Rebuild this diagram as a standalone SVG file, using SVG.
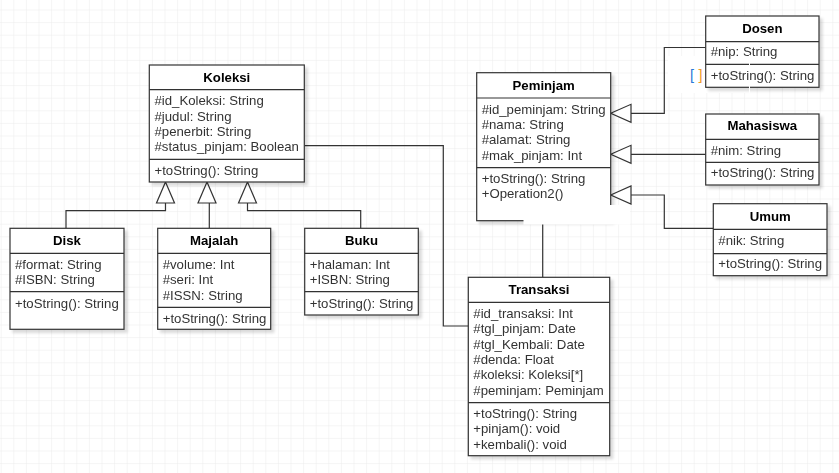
<svg xmlns="http://www.w3.org/2000/svg" width="839" height="473" viewBox="0 0 839 473">
<defs>
<pattern id="grid" x="0.7" y="9.5" width="12.6" height="12.6" patternUnits="userSpaceOnUse">
<path d="M0 0H12.6M0 0V12.6" fill="none" stroke="#ebebeb" stroke-width="1"/>
</pattern>
<filter id="sh" x="-10%" y="-10%" width="130%" height="130%">
<feGaussianBlur in="SourceAlpha" stdDeviation="1.5"/>
<feOffset dx="3" dy="3" result="b"/>
<feComponentTransfer><feFuncA type="linear" slope="0.15"/></feComponentTransfer>
<feMerge><feMergeNode/><feMergeNode in="SourceGraphic"/></feMerge>
</filter>
</defs>
<style>
.box{fill:#fff;stroke:#333;stroke-width:1.2}
.ln{stroke:#333;stroke-width:1.2;fill:none}
.tri{fill:#fff;stroke:#333;stroke-width:1.2}
.t{font-family:"Liberation Sans",Arial,sans-serif;font-size:13.2px;fill:#000;font-weight:bold;text-anchor:middle}
.a{font-family:"Liberation Sans",Arial,sans-serif;font-size:13.2px;fill:#333}
.br{font-family:"Liberation Sans",Arial,sans-serif;font-size:14.5px}
</style>
<rect width="839" height="473" fill="#fff"/>
<rect width="839" height="473" fill="url(#grid)"/>
<rect x="668" y="56" width="82" height="37" fill="#fff"/>

<g id="connectors">
<polyline class="ln" points="66,228.3 66,210.7 165.5,210.7 165.5,203"/>
<polygon class="tri" points="165.5,182 156.5,203 174.5,203"/>
<polyline class="ln" points="209.3,228.3 209.3,203"/>
<polygon class="tri" points="207,182 198,203 216,203"/>
<polyline class="ln" points="360.7,228.3 360.7,210.7 247.5,210.7 247.5,203"/>
<polygon class="tri" points="247.5,182 238.5,203 256.5,203"/>
<polyline class="ln" points="304.3,145.7 443.3,145.7 443.3,326 468.3,326"/>
<polyline class="ln" points="542.7,277.3 542.7,220.7"/>
<polyline class="ln" points="705.7,47.5 664.3,47.5 664.3,113.3 631,113.3"/>
<polygon class="tri" points="610.7,113.3 631,104.3 631,122.3"/>
<polyline class="ln" points="705.7,154.3 631,154.3"/>
<polygon class="tri" points="610.7,154.3 631,145.3 631,163.3"/>
<polyline class="ln" points="713.3,228.3 664.3,228.3 664.3,195 631,195"/>
<polygon class="tri" points="610.7,195 631,186 631,204"/>
</g>

<g id="Koleksi" filter="url(#sh)">
<rect class="box" x="149.3" y="65" width="155" height="117"/>
<line class="ln" x1="149.3" y1="89.7" x2="304.3" y2="89.7"/>
<line class="ln" x1="149.3" y1="159.3" x2="304.3" y2="159.3"/>
<text class="t" x="226.8" y="82.4">Koleksi</text>
<text class="a" x="154.5" y="105.4">#id_Koleksi: String</text>
<text class="a" x="154.5" y="120.7">#judul: String</text>
<text class="a" x="154.5" y="136">#penerbit: String</text>
<text class="a" x="154.5" y="151.3">#status_pinjam: Boolean</text>
<text class="a" x="154.5" y="174.7">+toString(): String</text>
</g>

<g id="Disk" filter="url(#sh)">
<rect class="box" x="10" y="228.3" width="114" height="101"/>
<line class="ln" x1="10" y1="253.3" x2="124" y2="253.3"/>
<line class="ln" x1="10" y1="291.7" x2="124" y2="291.7"/>
<text class="t" x="67" y="245.4">Disk</text>
<text class="a" x="15" y="268.7">#format: String</text>
<text class="a" x="15" y="284">#ISBN: String</text>
<text class="a" x="15" y="308">+toString(): String</text>
</g>

<g id="Majalah" filter="url(#sh)">
<rect class="box" x="157.7" y="228.3" width="113" height="101"/>
<line class="ln" x1="157.7" y1="253.3" x2="270.7" y2="253.3"/>
<line class="ln" x1="157.7" y1="307.3" x2="270.7" y2="307.3"/>
<text class="t" x="214.2" y="245.4">Majalah</text>
<text class="a" x="162.7" y="268.7">#volume: Int</text>
<text class="a" x="162.7" y="284">#seri: Int</text>
<text class="a" x="162.7" y="299.6">#ISSN: String</text>
<text class="a" x="162.7" y="323">+toString(): String</text>
</g>

<g id="Buku" filter="url(#sh)">
<rect class="box" x="304.7" y="228.3" width="113.6" height="86.7"/>
<line class="ln" x1="304.7" y1="253.3" x2="418.3" y2="253.3"/>
<line class="ln" x1="304.7" y1="291.7" x2="418.3" y2="291.7"/>
<text class="t" x="361.5" y="245.4">Buku</text>
<text class="a" x="309.7" y="268.7">+halaman: Int</text>
<text class="a" x="309.7" y="284">+ISBN: String</text>
<text class="a" x="309.7" y="308">+toString(): String</text>
</g>

<g id="Transaksi" filter="url(#sh)">
<rect class="box" x="468.3" y="277.3" width="141.4" height="178.4"/>
<line class="ln" x1="468.3" y1="302.3" x2="609.7" y2="302.3"/>
<line class="ln" x1="468.3" y1="402.7" x2="609.7" y2="402.7"/>
<text class="t" x="539" y="294">Transaksi</text>
<text class="a" x="473.3" y="317.7">#id_transaksi: Int</text>
<text class="a" x="473.3" y="333.1">#tgl_pinjam: Date</text>
<text class="a" x="473.3" y="348.5">#tgl_Kembali: Date</text>
<text class="a" x="473.3" y="363.9">#denda: Float</text>
<text class="a" x="473.3" y="379.3">#koleksi: Koleksi[*]</text>
<text class="a" x="473.3" y="394.7">#peminjam: Peminjam</text>
<text class="a" x="473.3" y="418">+toString(): String</text>
<text class="a" x="473.3" y="433.4">+pinjam(): void</text>
<text class="a" x="473.3" y="448.8">+kembali(): void</text>
</g>

<g id="Peminjam" filter="url(#sh)">
<rect class="box" x="476.7" y="72.7" width="134" height="148"/>
<line class="ln" x1="476.7" y1="98" x2="610.7" y2="98"/>
<line class="ln" x1="476.7" y1="167.7" x2="610.7" y2="167.7"/>
<text class="t" x="543.7" y="89.7">Peminjam</text>
<text class="a" x="481.7" y="113.7">#id_peminjam: String</text>
<text class="a" x="481.7" y="129">#nama: String</text>
<text class="a" x="481.7" y="144.3">#alamat: String</text>
<text class="a" x="481.7" y="159.6">#mak_pinjam: Int</text>
<text class="a" x="481.7" y="183">+toString(): String</text>
<text class="a" x="481.7" y="198.3">+Operation2()</text>
</g>
<rect x="523.5" y="205" width="106.5" height="19.5" fill="#fff"/>

<g id="Dosen" filter="url(#sh)">
<rect class="box" x="705.7" y="16" width="113.3" height="71.3"/>
<line class="ln" x1="705.7" y1="41.7" x2="819" y2="41.7"/>
<line class="ln" x1="705.7" y1="64.3" x2="819" y2="64.3"/>
<text class="t" x="762.3" y="33">Dosen</text>
<text class="a" x="710.7" y="56.4">#nip: String</text>
<text class="a" x="710.7" y="79.7">+toString(): String</text>
</g>
<line x1="749.5" y1="55" x2="749.5" y2="93" stroke="#fff" stroke-width="1"/>
<text class="br" x="690" y="80" fill="#2a7ad8">[</text>
<text class="br" x="698.5" y="80" fill="#f09a2a">]</text>

<g id="Mahasiswa" filter="url(#sh)">
<rect class="box" x="705.7" y="114" width="113.3" height="71"/>
<line class="ln" x1="705.7" y1="139.3" x2="819" y2="139.3"/>
<line class="ln" x1="705.7" y1="162.3" x2="819" y2="162.3"/>
<text class="t" x="762.3" y="130.4">Mahasiswa</text>
<text class="a" x="710.7" y="154.7">#nim: String</text>
<text class="a" x="710.7" y="177.4">+toString(): String</text>
</g>

<g id="Umum" filter="url(#sh)">
<rect class="box" x="713.3" y="203.7" width="113.7" height="72"/>
<line class="ln" x1="713.3" y1="229.3" x2="827" y2="229.3"/>
<line class="ln" x1="713.3" y1="253.7" x2="827" y2="253.7"/>
<text class="t" x="770.2" y="220.7">Umum</text>
<text class="a" x="718.3" y="244.7">#nik: String</text>
<text class="a" x="718.3" y="268">+toString(): String</text>
</g>
</svg>
